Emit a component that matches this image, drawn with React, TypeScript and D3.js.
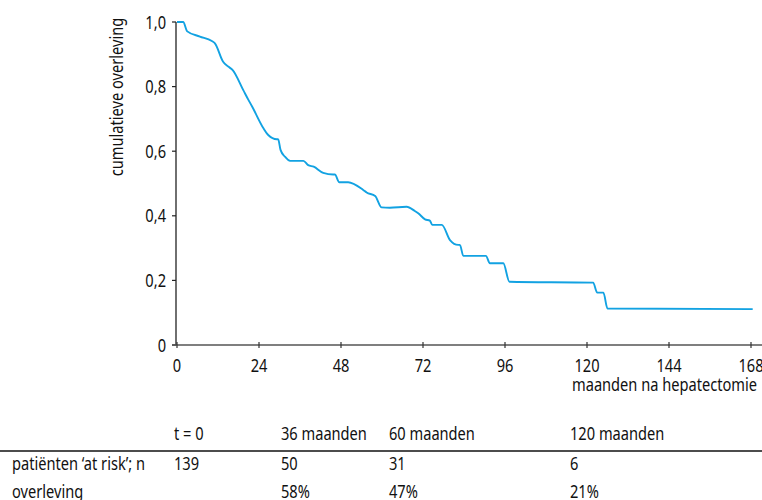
import React from "react";
import * as d3 from "d3";

const months = [0, 1.8, 3.0, 6.7, 10.2, 11.1, 13.5, 15, 16.3, 19.4, 20.9, 22.1, 25.3, 26.7, 29.2, 29.6, 30.3, 31.6, 33.1, 37, 38.4, 40, 42.8, 45.7, 46.2, 47.5, 50.1, 54.5, 55.5, 58, 59.9, 62.3, 67.2, 69.6, 70.6, 72.6, 74, 74.7, 77.5, 79.9, 82.3, 82.8, 83.8, 90.4, 91.6, 95.5, 97.3, 121.8, 123, 124.8, 126, 168.5];
const survival = [1.0, 1.0, 0.971, 0.955, 0.941, 0.934, 0.877, 0.862, 0.851, 0.789, 0.759, 0.736, 0.671, 0.65, 0.637, 0.637, 0.604, 0.583, 0.57, 0.57, 0.557, 0.552, 0.533, 0.528, 0.528, 0.504, 0.504, 0.48, 0.472, 0.461, 0.426, 0.425, 0.428, 0.415, 0.408, 0.389, 0.385, 0.372, 0.372, 0.325, 0.31, 0.31, 0.276, 0.276, 0.253, 0.253, 0.196, 0.193, 0.162, 0.162, 0.113, 0.111];

const xTicks = [0, 24, 48, 72, 96, 120, 144, 168];
const yTicks = [0, 0.2, 0.4, 0.6, 0.8, 1.0];
const yTickLabels = ["0", "0,2", "0,4", "0,6", "0,8", "1,0"];

const tableHeaders = ["t = 0", "36 maanden", "60 maanden", "120 maanden"];
const rowLabels = ["patiënten \u2018at risk\u2019; n", "overleving"];
const atRisk = ["139", "50", "31", "6"];
const survivalPct = ["", "58%", "47%", "21%"];

const FONT = "'Noto Sans', 'Open Sans', sans-serif";
const SX = 0.77;
const FS = 19;

function T({ x, y, anchor = "start", rotate = 0, children, dy }: any) {
  return (
    <g transform={`translate(${x},${y}) rotate(${rotate}) scale(${SX},1)`}>
      <text textAnchor={anchor} fontSize={FS} fill="#111" dy={dy}>{children}</text>
    </g>
  );
}

export default function App() {
  const x = d3.scaleLinear().domain([0, 168]).range([177, 751]);
  const y = d3.scaleLinear().domain([0, 1]).range([345, 22]);
  const data = months.map((m, i) => [m, survival[i]] as [number, number]);
  const line = d3.line<[number, number]>().x(d => x(d[0])).y(d => y(d[1])).curve(d3.curveMonotoneX);
  const colX = [174, 281, 389, 570];

  return (
    <svg width={762} height={500} style={{ position: "absolute", left: 0, top: 0, background: "#fff" }} fontFamily={FONT}>
      {/* y axis */}
      <line x1={176} x2={176} y1={22} y2={345} stroke="#222" strokeWidth={1.3} />
      {yTicks.map((t, i) => (
        <g key={t}>
          <line x1={172} x2={176} y1={y(t)} y2={y(t)} stroke="#222" strokeWidth={1.2} />
          <T x={166} y={y(t)} anchor="end" dy="0.35em">{yTickLabels[i]}</T>
        </g>
      ))}
      {/* x axis */}
      <line x1={172} x2={762} y1={345} y2={345} stroke="#555" strokeWidth={1.3} />
      {xTicks.map(t => (
        <g key={t}>
          <line x1={x(t)} x2={x(t)} y1={342} y2={348} stroke="#333" strokeWidth={1.2} />
          <T x={x(t)} y={372} anchor="middle">{String(t)}</T>
        </g>
      ))}
      <T x={757} y={391} anchor="end">maanden na hepatectomie</T>
      <T x={123} y={97} anchor="middle" rotate={-90}>cumulatieve overleving</T>
      {/* curve */}
      <path d={line(data) || ""} fill="none" stroke="#12a2e2" strokeWidth={1.9} />
      {/* table */}
      {tableHeaders.map((h, i) => (
        <T key={h} x={colX[i]} y={440}>{h}</T>
      ))}
      <line x1={0} x2={762} y1={451} y2={451} stroke="#111" strokeWidth={1.3} />
      <T x={12} y={470}>{rowLabels[0]}</T>
      {atRisk.map((v, i) => (
        <T key={"r" + i} x={colX[i]} y={470}>{v}</T>
      ))}
      <T x={12} y={498}>{rowLabels[1]}</T>
      {survivalPct.map((v, i) => (
        <T key={"s" + i} x={colX[i]} y={498}>{v}</T>
      ))}
    </svg>
  );
}
